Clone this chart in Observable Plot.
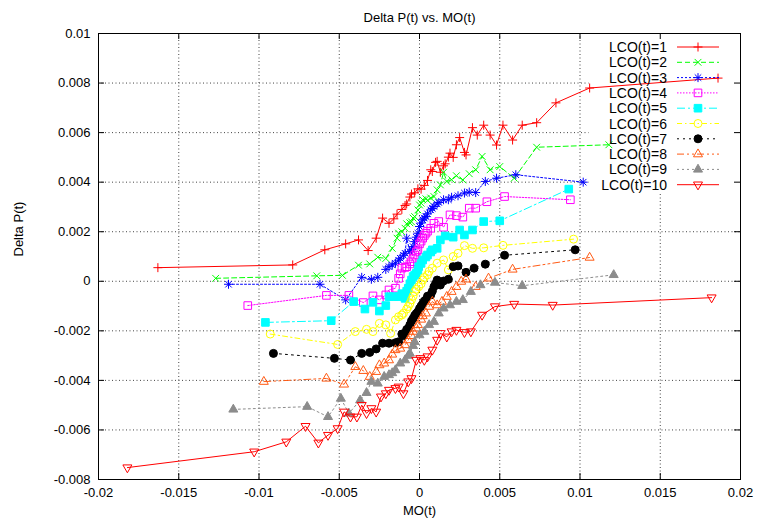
<!DOCTYPE html>
<html><head><meta charset="utf-8">
<script src="https://cdn.jsdelivr.net/npm/d3@7"></script>
<script src="https://cdn.jsdelivr.net/npm/@observablehq/plot@0.6"></script>
<style>body{margin:0;background:#fff}svg{font-family:"Liberation Sans",Arial,sans-serif}</style>
</head><body><div id="chart"></div>
<script>
const titleText = "Delta P(t) vs. MO(t)";
const xLabel = "MO(t)";
const yLabel = "Delta P(t)";
const xTicks = [-0.02,-0.015,-0.01,-0.005,0,0.005,0.01,0.015,0.02];
const xTickLabels = ["-0.02","-0.015","-0.01","-0.005","0","0.005","0.01","0.015","0.02"];
const yTicks = [-0.008,-0.006,-0.004,-0.002,0,0.002,0.004,0.006,0.008,0.01];
const yTickLabels = ["-0.008","-0.006","-0.004","-0.002","0","0.002","0.004","0.006","0.008","0.01"];
const labels = ["LCO(t)=1","LCO(t)=2","LCO(t)=3","LCO(t)=4","LCO(t)=5","LCO(t)=6","LCO(t)=7","LCO(t)=8","LCO(t)=9","LCO(t)=10"];

const s1 = [[-0.0163,0.00055],[-0.0079,0.00066],[-0.0059,0.00127],[-0.0046,0.00151],[-0.0038,0.00167],[-0.0032,0.00124],[-0.0027,0.00174],[-0.0023,0.00255],[-0.0019,0.00234],[-0.0016,0.00252],[-0.0014,0.00271],[-0.0011,0.0029],[-0.0009,0.00306],[-0.0008,0.00312],[-0.0006,0.0034],[-0.0005,0.00352],[-0.0003,0.00357],[-0.0001,0.00373],[0.0001,0.00372],[0.0003,0.00387],[0.0005,0.00407],[0.0007,0.0045],[0.0008,0.00443],[0.001,0.0048],[0.0011,0.00484],[0.0013,0.0044],[0.0015,0.00466],[0.0016,0.00474],[0.0018,0.00501],[0.0019,0.00517],[0.0021,0.005],[0.0023,0.00551],[0.0025,0.0058],[0.0028,0.0052],[0.0029,0.0051],[0.0033,0.0062],[0.0036,0.0059],[0.004,0.0063],[0.0044,0.0059],[0.0048,0.0055],[0.0052,0.0063],[0.0058,0.0057],[0.0064,0.0063],[0.0073,0.0064],[0.0085,0.0072],[0.0106,0.0078],[0.0186,0.0082]];
const s2 = [[-0.0127,0.00012],[-0.0064,0.00022],[-0.0048,0.00024],[-0.0038,0.00065],[-0.0031,0.0007],[-0.0026,0.00097],[-0.0021,0.00092],[-0.0017,0.00133],[-0.0014,0.00174],[-0.0013,0.00194],[-0.0011,0.002],[-0.0009,0.00214],[-0.0008,0.00232],[-0.0006,0.00236],[-0.0005,0.0024],[-0.0004,0.00255],[-0.0003,0.00261],[-0.0001,0.00288],[0,0.00308],[0.0001,0.00315],[0.0002,0.00329],[0.0004,0.00333],[0.0005,0.00327],[0.0007,0.00336],[0.0009,0.00342],[0.0011,0.00369],[0.0013,0.00389],[0.0015,0.0044],[0.0017,0.00403],[0.002,0.0041],[0.0023,0.00426],[0.0027,0.00409],[0.0031,0.00434],[0.0035,0.0045],[0.0039,0.00504],[0.0044,0.0045],[0.005,0.00463],[0.0059,0.00416],[0.0073,0.00541],[0.0118,0.00551]];
const s3 = [[-0.0119,-0.00012],[-0.0062,-0.00012],[-0.0046,-0.00075],[-0.0036,0.00016],[-0.003,0.00008],[-0.0026,0.00016],[-0.0021,0.00048],[-0.0019,0.00059],[-0.0017,0.00066],[-0.0015,0.00073],[-0.0013,0.00085],[-0.0012,0.00093],[-0.001,0.00105],[-0.0009,0.00113],[-0.0008,0.00174],[-0.0006,0.0012],[-0.0005,0.00127],[-0.0004,0.0014],[-0.0003,0.0016],[-0.0002,0.00178],[-0.0001,0.00194],[0,0.00221],[0.0001,0.00235],[0.0002,0.00248],[0.0003,0.00255],[0.0004,0.00261],[0.0005,0.00272],[0.0007,0.00288],[0.0008,0.00294],[0.0009,0.00302],[0.0011,0.00312],[0.0012,0.00318],[0.0015,0.00329],[0.0018,0.00329],[0.002,0.00339],[0.0024,0.00345],[0.0028,0.00356],[0.0031,0.0036],[0.0035,0.00358],[0.0041,0.00403],[0.0048,0.00416],[0.006,0.0043],[0.0102,0.004]];
const s4 = [[-0.0107,-0.00098],[-0.0058,-0.00057],[-0.0044,-0.00057],[-0.0035,-0.00086],[-0.0029,-0.00059],[-0.0025,-0.00075],[-0.0021,-0.00055],[-0.0019,-0.00035],[-0.0015,-0.00028],[-0.0013,0.00012],[-0.0012,0.0003],[-0.0011,0.00053],[-0.0009,0.00056],[-0.0008,0.00059],[-0.0006,0.0007],[-0.0005,0.00079],[-0.0004,0.00092],[-0.0003,0.00106],[-0.0002,0.00118],[-0.0001,0.00127],[0,0.00151],[0.0001,0.00162],[0.0002,0.00174],[0.0003,0.00185],[0.0004,0.00194],[0.0005,0.00202],[0.0007,0.00214],[0.0009,0.00234],[0.0012,0.00241],[0.0015,0.00218],[0.0019,0.00268],[0.0023,0.00265],[0.0027,0.00259],[0.0031,0.00295],[0.0035,0.00295],[0.0042,0.00321],[0.0053,0.00342],[0.0094,0.00329]];
const s5 = [[-0.0096,-0.00166],[-0.0055,-0.00159],[-0.0041,-0.00082],[-0.0034,-0.00112],[-0.0029,-0.00085],[-0.0025,-0.0012],[-0.0021,-0.00098],[-0.0019,-0.00062],[-0.0016,-0.00062],[-0.0013,-0.00062],[-0.0011,-0.0005],[-0.0009,-0.00069],[-0.0008,-0.0004],[-0.0007,-0.00028],[-0.0006,-0.0001],[-0.0005,0.00005],[-0.0004,0.00019],[-0.0003,0.00025],[-0.0002,0.00032],[-0.0001,0.00045],[-0.00005,0.00059],[0.0001,0.00072],[0.0002,0.00086],[0.0004,0.00098],[0.0005,0.00106],[0.0007,0.00118],[0.0008,0.00127],[0.0011,0.00133],[0.0013,0.00167],[0.0016,0.00183],[0.0021,0.00178],[0.0025,0.00207],[0.0028,0.00187],[0.0033,0.00207],[0.004,0.00241],[0.005,0.00244],[0.0093,0.00372]];
const s6 = [[-0.0093,-0.00213],[-0.0051,-0.00255],[-0.004,-0.00203],[-0.0033,-0.00194],[-0.0029,-0.00203],[-0.0025,-0.0017],[-0.0021,-0.00176],[-0.0018,-0.0021],[-0.0015,-0.00156],[-0.0013,-0.00143],[-0.0011,-0.00136],[-0.001,-0.00129],[-0.0008,-0.00112],[-0.0007,-0.00102],[-0.0006,-0.0009],[-0.0005,-0.00075],[-0.0004,-0.0006],[-0.0003,-0.00042],[-0.0002,-0.00032],[-0.00005,-0.00022],[0.0001,-0.0001],[0.0002,0.00005],[0.0003,0.00015],[0.0005,0.00026],[0.0006,0.0004],[0.0008,0.00053],[0.0011,0.00073],[0.0015,0.00086],[0.0018,0.00046],[0.0021,0.001],[0.0024,0.00113],[0.0028,0.00144],[0.0033,0.00133],[0.004,0.00135],[0.0052,0.00145],[0.0096,0.0017]];
const s7 = [[-0.0091,-0.00291],[-0.0053,-0.00311],[-0.0043,-0.00318],[-0.0036,-0.00291],[-0.0031,-0.00287],[-0.0027,-0.00273],[-0.0023,-0.0025],[-0.0019,-0.0025],[-0.0015,-0.00248],[-0.0013,-0.00244],[-0.0011,-0.00213],[-0.001,-0.0022],[-0.0009,-0.0021],[-0.0008,-0.00195],[-0.0007,-0.0019],[-0.0006,-0.00176],[-0.0005,-0.0016],[-0.0004,-0.0015],[-0.0003,-0.00138],[-0.0002,-0.0013],[-0.0001,-0.00123],[0,-0.0011],[0.0001,-0.001],[0.0002,-0.0009],[0.0003,-0.0008],[0.0004,-0.00075],[0.0005,-0.0006],[0.0007,-0.00055],[0.0008,-0.0004],[0.0009,-0.00022],[0.001,-0.0001],[0.0011,0.00005],[0.0013,-0.00015],[0.0015,0.00001],[0.0018,0.00008],[0.0021,0.00059],[0.0024,0.00062],[0.0029,0.00036],[0.0034,0.00053],[0.0041,0.00069],[0.0053,0.00105],[0.0097,0.00127]];
const s8 = [[-0.0097,-0.00405],[-0.0058,-0.00392],[-0.0047,-0.00416],[-0.004,-0.00345],[-0.0035,-0.00361],[-0.0031,-0.00385],[-0.0027,-0.00365],[-0.0025,-0.00338],[-0.0022,-0.00331],[-0.0019,-0.00318],[-0.0017,-0.00295],[-0.0015,-0.00277],[-0.0012,-0.00271],[-0.0009,-0.00257],[-0.0007,-0.00237],[-0.0005,-0.0022],[-0.0004,-0.00203],[-0.0002,-0.0019],[-0.0001,-0.00176],[0.0001,-0.00154],[0.0002,-0.0014],[0.0004,-0.00129],[0.0006,-0.00102],[0.0008,-0.00082],[0.0011,-0.00096],[0.0014,-0.00082],[0.0017,-0.00062],[0.002,-0.00042],[0.0023,-0.00022],[0.0026,-0.00001],[0.0029,0.00008],[0.0035,-0.00022],[0.0043,0.00012],[0.0058,0.00048],[0.0106,0.00096]];
const s9 = [[-0.0116,-0.00517],[-0.007,-0.00506],[-0.0057,-0.00547],[-0.0049,-0.00473],[-0.0044,-0.00533],[-0.0037,-0.0048],[-0.0033,-0.0045],[-0.003,-0.00405],[-0.0026,-0.00412],[-0.0022,-0.00385],[-0.0019,-0.00378],[-0.0017,-0.0037],[-0.0015,-0.00358],[-0.0012,-0.00331],[-0.0009,-0.00318],[-0.0007,-0.003],[-0.0006,-0.00291],[-0.0004,-0.0026],[-0.0003,-0.00244],[0,-0.00217],[0.0003,-0.00203],[0.0006,-0.00176],[0.0009,-0.00163],[0.0012,-0.00129],[0.0015,-0.00109],[0.0019,-0.00096],[0.0023,-0.00082],[0.0027,-0.00075],[0.0032,-0.00042],[0.0038,-0.00015],[0.0047,-0.00005],[0.0064,-0.00018],[0.0121,0.00026]];
const s10 = [[-0.0182,-0.00752],[-0.0103,-0.00688],[-0.0083,-0.00648],[-0.0071,-0.00585],[-0.0063,-0.00652],[-0.0057,-0.00621],[-0.0051,-0.00594],[-0.0047,-0.00527],[-0.0043,-0.00547],[-0.0039,-0.00547],[-0.0036,-0.005],[-0.0033,-0.00533],[-0.003,-0.00513],[-0.0027,-0.00527],[-0.0024,-0.00466],[-0.0021,-0.00453],[-0.0019,-0.00439],[-0.0015,-0.00432],[-0.0013,-0.00426],[-0.001,-0.00453],[-0.0007,-0.00405],[-0.0005,-0.00392],[-0.0002,-0.00318],[0.00005,-0.00311],[0.0003,-0.00318],[0.0005,-0.00304],[0.0008,-0.00277],[0.0011,-0.00237],[0.0013,-0.0021],[0.0017,-0.00224],[0.002,-0.00203],[0.0023,-0.00197],[0.0028,-0.00206],[0.0032,-0.00203],[0.0039,-0.00136],[0.0047,-0.00102],[0.0059,-0.00092],[0.0083,-0.00096],[0.0182,-0.00066]];
const seriesData = [s1,s2,s3,s4,s5,s6,s7,s8,s9,s10];

// styles
const colors = ["#ff0000","#00ff00","#0000ff","#ff00ff","#00ffff","#ffff00","#000000","#ff5a14","#8c8c8c","#ff0000"];
const dashes = [null,"5,3","2,2","1.5,1.5","8,3,2,3","5,3,1.5,3","2,4","7,3,2,3,2,3","2,3",null];
const rad = s => Math.sqrt(s/Math.PI);
const symPlus = {draw(c,s){const r=rad(s);c.moveTo(-r,0);c.lineTo(r,0);c.moveTo(0,-r);c.lineTo(0,r);}};
const symCross = {draw(c,s){const r=rad(s)*0.75;c.moveTo(-r,-r);c.lineTo(r,r);c.moveTo(-r,r);c.lineTo(r,-r);}};
const symStar = {draw(c,s){const r=rad(s),k=r*0.72;c.moveTo(-r,0);c.lineTo(r,0);c.moveTo(0,-r);c.lineTo(0,r);c.moveTo(-k,-k);c.lineTo(k,k);c.moveTo(-k,k);c.lineTo(k,-k);}};
const symSquare = {draw(c,s){const r=rad(s);c.moveTo(-r,-r);c.lineTo(r,-r);c.lineTo(r,r);c.lineTo(-r,r);c.closePath();}};
const symCircle = {draw(c,s){const r=rad(s);c.moveTo(r,0);c.arc(0,0,r,0,2*Math.PI);}};
const symTriUp = {draw(c,s){const r=rad(s);c.moveTo(0,-r*1.15);c.lineTo(r,r*0.6);c.lineTo(-r,r*0.6);c.closePath();}};
const symTriDown = {draw(c,s){const r=rad(s);c.moveTo(0,r*1.15);c.lineTo(r,-r*0.6);c.lineTo(-r,-r*0.6);c.closePath();}};
const symbols = [symPlus,symCross,symStar,symSquare,symSquare,symCircle,symCircle,symTriUp,symTriUp,symTriDown];
const filled = [false,false,false,false,true,false,true,false,true,false];
const radii = [4.5,4.5,4.5,3.8,3.8,4,4,4.5,4.5,4.5];

const marks = [
  Plot.gridX(xTicks.slice(1,-1), {x: d=>d, stroke:"#444", strokeOpacity:1, strokeWidth:1, strokeDasharray:"1,2.5"}),
  Plot.gridY(yTicks.slice(1), {y: d=>d, stroke:"#444", strokeOpacity:1, strokeWidth:1, strokeDasharray:"1,2.5"}),
  Plot.frame({fill:"white", stroke:null, insetLeft:490, insetBottom:286}),
  Plot.tickX(xTicks, {x: d=>d, insetTop:440, stroke:"black"}),
  Plot.tickX(xTicks, {x: d=>d, insetBottom:440, stroke:"black"}),
  Plot.tickY(yTicks, {y: d=>d, insetLeft:636, stroke:"black"}),
  Plot.tickY(yTicks, {y: d=>d, insetRight:636, stroke:"black"}),
  Plot.axisX(xTicks, {tickSize:0, tickPadding:8, fontSize:13, tickFormat: d=>xTickLabels[xTicks.indexOf(d)], label:null}),
  Plot.axisY(yTicks, {tickSize:0, tickPadding:8, fontSize:13, tickFormat: d=>yTickLabels[yTicks.indexOf(d)], label:null}),
  Plot.text([titleText], {frameAnchor:"top", dy:-21, fontSize:13}),
  Plot.text([xLabel], {frameAnchor:"bottom", dy:35, fontSize:13}),
  Plot.text([yLabel], {frameAnchor:"left", dx:-80, rotate:-90, fontSize:13})
];
seriesData.forEach((s,i)=>{
  marks.push(Plot.line(s, {x:d=>d[0], y:d=>d[1], stroke:colors[i], strokeWidth:1, strokeDasharray:dashes[i]}));
  marks.push(Plot.dot(s, {x:d=>d[0], y:d=>d[1], symbol:symbols[i], r:radii[i], stroke:colors[i], strokeWidth:1, fill: filled[i]?colors[i]:"none"}));
});
marks.push(Plot.frame({stroke:"black", strokeWidth:1}));

const plot = Plot.plot({
  width:757, height:529,
  marginLeft:98, marginRight:17, marginTop:33, marginBottom:50,
  style:{fontFamily:'"Liberation Sans", Arial, sans-serif', fontSize:"13px", background:"white", color:"black"},
  x:{domain:[-0.02,0.02], axis:null},
  y:{domain:[-0.008,0.01], axis:null},
  marks
});
document.getElementById("chart").appendChild(plot);

// legend (key) inside the frame, top right
const svg = d3.select(plot.tagName.toLowerCase()==="svg" ? plot : plot.querySelector("svg"));
const key = svg.append("g").attr("font-family",'"Liberation Sans", Arial, sans-serif').attr("font-size",14);
labels.forEach((lab,i)=>{
  const y = 47 + i*15.3;
  key.append("text").attr("x",667).attr("y",y).attr("dy","0.36em").attr("text-anchor","end").attr("fill","black").text(lab);
  key.append("line").attr("x1",677).attr("x2",719).attr("y1",y).attr("y2",y).attr("stroke",colors[i]).attr("stroke-width",1).attr("stroke-dasharray",dashes[i]);
  key.append("path").attr("transform",`translate(698,${y})`)
    .attr("d", d3.symbol(symbols[i], radii[i]*radii[i]*Math.PI)())
    .attr("stroke",colors[i]).attr("stroke-width",1).attr("fill", filled[i]?colors[i]:"none");
});
</script></body></html>
